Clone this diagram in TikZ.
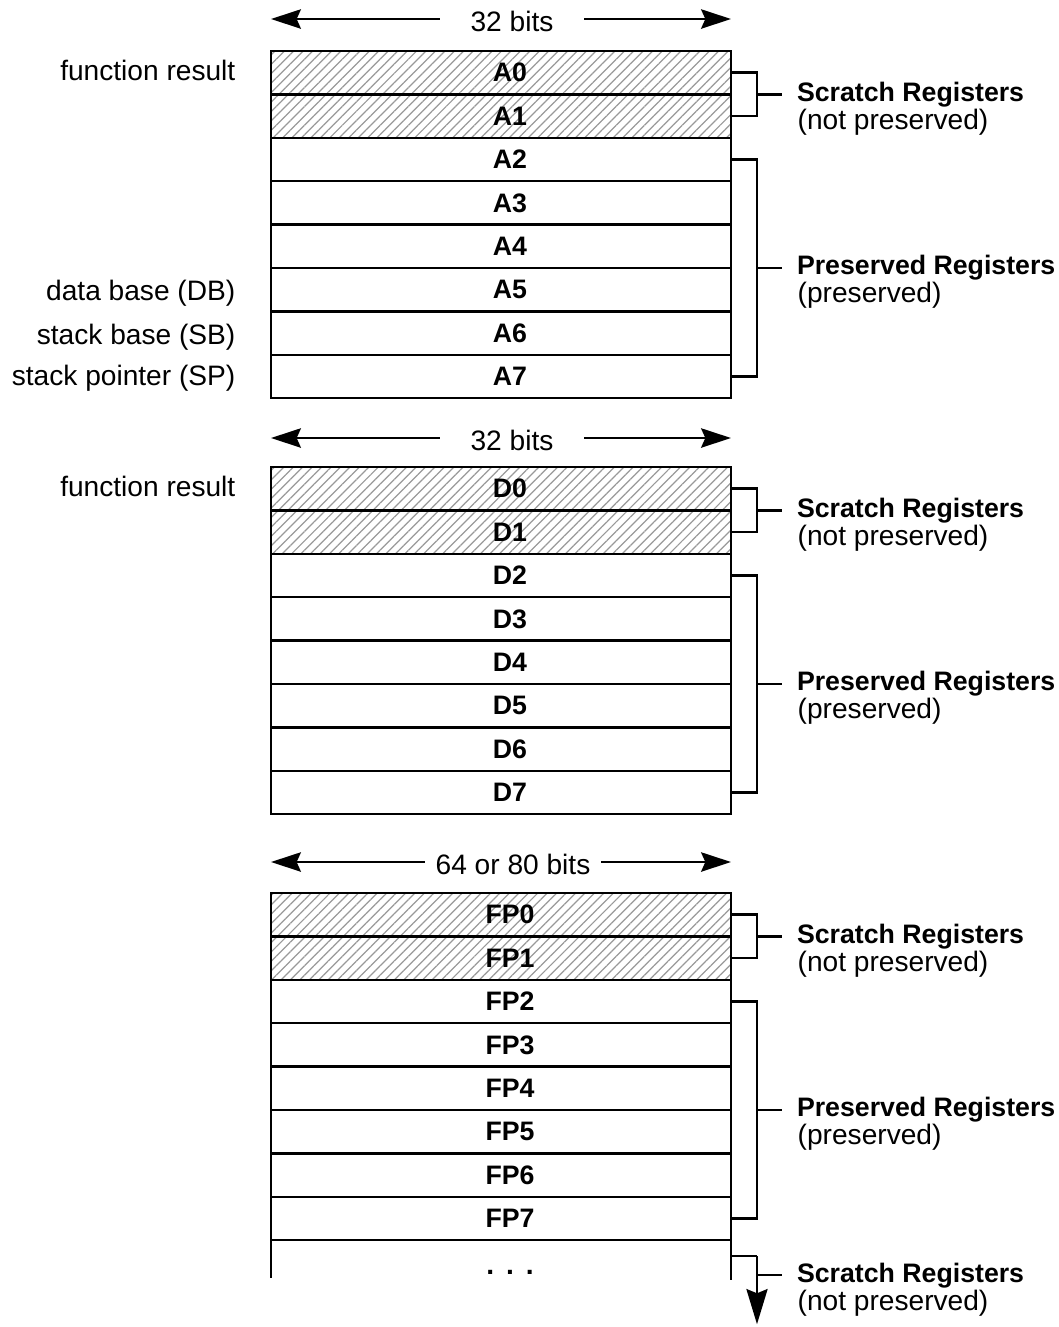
\documentclass[tikz,border=0pt]{standalone}
\usepackage{fontspec}
\setmainfont{Liberation Sans}
\usepackage{tikz}
\usetikzlibrary{calc,positioning,patterns.meta,arrows.meta}
\newcommand\lblfont{\fontsize{8}{8}\selectfont}
\newcommand\hdfont{\fontsize{7.6}{8}\selectfont\bfseries}
\tikzset{
    reg/.style={
        draw,
        line width=0.7pt,
        minimum width=4.6cm,
        minimum height=0.434cm,
        inner sep=0pt,
        outer sep=0pt,
        font=\hdfont,
        execute at begin node={\hspace*{0.18cm}}
    },
    % scratch registers are hatched
    hatch/.style={
        pattern={Lines[angle=45,distance=1.9pt,line width=0.35pt]},
        pattern color=black!40
    },
    brk/.style={line width=0.7pt},
    widtharrow/.style={
        line width=0.7pt,
        -{Stealth[length=8.5pt, width=5.5pt, inset=1.2pt]}
    },
    lbl/.style={font=\lblfont, inner sep=0pt},
    head/.style={font=\hdfont, inner ysep=0pt, inner xsep=0.15cm, outer sep=0pt},
    note/.style={font=\lblfont, inner sep=0pt, anchor=base west}
}

\begin{document}
\begin{tikzpicture}
    \useasboundingbox (0,0) rectangle (10.58,-13.27);

    % address registers
    \node[lbl, inner xsep=0.3cm] (wa) at (5.12,-0.21) {32 bits};
    \coordinate (wal) at (2.71,-0.19);
    \coordinate (war) at (7.31,-0.19);
    \draw[widtharrow] (wa.west |- wal) -- (wal);
    \draw[widtharrow] (wa.east |- war) -- (war);

    \node[reg,hatch] (a0) at (5.01,-0.727) {A0};
    \node[reg,hatch,below=0pt of a0] (a1) {A1};
    \node[reg,below=0pt of a1] (a2) {A2};
    \node[reg,below=0pt of a2] (a3) {A3};
    \node[reg,below=0pt of a3] (a4) {A4};
    \node[reg,below=0pt of a4] (a5) {A5};
    \node[reg,below=0pt of a5] (a6) {A6};
    \node[reg,below=0pt of a6] (a7) {A7};

    \node[lbl, anchor=east, left=0.35cm of a0.west, yshift=0.02cm] (resa) {function result};
    \node[lbl, anchor=east, left=0.35cm of a5.west, yshift=-0.04cm] (db) {data base (DB)};
    \node[lbl, anchor=east, left=0.35cm of a6.west, yshift=-0.04cm] (sb) {stack base (SB)};
    \node[lbl, anchor=east, left=0.35cm of a7.west, yshift=-0.02cm] (sp) {stack pointer (SP)};

    \draw[brk] (a0.east) -- ++(0.26,0) |- (a1.east);
    \coordinate (ta1) at ($(a0.east)!0.5!(a1.east)+(0.26,0)$);
    \node[head, right=0.25cm of ta1] (sa1) {Scratch Registers};
    \node[note] (sa1n) at ($(sa1.base west)+(0.15,-0.28)$) {(not preserved)};
    \draw[brk] (ta1) -- (sa1.west);

    \draw[brk] (a2.east) -- ++(0.26,0) |- (a7.east);
    \coordinate (ta2) at ($(a2.east)!0.5!(a7.east)+(0.26,0)$);
    \node[head, right=0.25cm of ta2] (sa2) {Preserved Registers};
    \node[note] (sa2n) at ($(sa2.base west)+(0.15,-0.28)$) {(preserved)};
    \draw[brk] (ta2) -- (sa2.west);

    % data registers
    \node[lbl, inner xsep=0.3cm] (wd) at (5.12,-4.40) {32 bits};
    \coordinate (wdl) at (2.71,-4.38);
    \coordinate (wdr) at (7.31,-4.38);
    \draw[widtharrow] (wd.west |- wdl) -- (wdl);
    \draw[widtharrow] (wd.east |- wdr) -- (wdr);

    \node[reg,hatch] (d0) at (5.01,-4.887) {D0};
    \node[reg,hatch,below=0pt of d0] (d1) {D1};
    \node[reg,below=0pt of d1] (d2) {D2};
    \node[reg,below=0pt of d2] (d3) {D3};
    \node[reg,below=0pt of d3] (d4) {D4};
    \node[reg,below=0pt of d4] (d5) {D5};
    \node[reg,below=0pt of d5] (d6) {D6};
    \node[reg,below=0pt of d6] (d7) {D7};

    \node[lbl, anchor=east, left=0.35cm of d0.west, yshift=0.02cm] (resd) {function result};

    \draw[brk] (d0.east) -- ++(0.26,0) |- (d1.east);
    \coordinate (td1) at ($(d0.east)!0.5!(d1.east)+(0.26,0)$);
    \node[head, right=0.25cm of td1] (sd1) {Scratch Registers};
    \node[note] (sd1n) at ($(sd1.base west)+(0.15,-0.28)$) {(not preserved)};
    \draw[brk] (td1) -- (sd1.west);

    \draw[brk] (d2.east) -- ++(0.26,0) |- (d7.east);
    \coordinate (td2) at ($(d2.east)!0.5!(d7.east)+(0.26,0)$);
    \node[head, right=0.25cm of td2] (sd2) {Preserved Registers};
    \node[note] (sd2n) at ($(sd2.base west)+(0.15,-0.28)$) {(preserved)};
    \draw[brk] (td2) -- (sd2.west);

    % floating point registers
    \node[lbl, inner xsep=0.1cm] (wf) at (5.13,-8.64) {64 or 80 bits};
    \coordinate (wfl) at (2.71,-8.62);
    \coordinate (wfr) at (7.31,-8.62);
    \draw[widtharrow] (wf.west |- wfl) -- (wfl);
    \draw[widtharrow] (wf.east |- wfr) -- (wfr);

    \node[reg,hatch] (fp0) at (5.01,-9.147) {FP0};
    \node[reg,hatch,below=0pt of fp0] (fp1) {FP1};
    \node[reg,below=0pt of fp1] (fp2) {FP2};
    \node[reg,below=0pt of fp2] (fp3) {FP3};
    \node[reg,below=0pt of fp3] (fp4) {FP4};
    \node[reg,below=0pt of fp4] (fp5) {FP5};
    \node[reg,below=0pt of fp5] (fp6) {FP6};
    \node[reg,below=0pt of fp6] (fp7) {FP7};

    \draw[brk] (fp0.east) -- ++(0.26,0) |- (fp1.east);
    \coordinate (tf1) at ($(fp0.east)!0.5!(fp1.east)+(0.26,0)$);
    \node[head, right=0.25cm of tf1] (sf1) {Scratch Registers};
    \node[note] (sf1n) at ($(sf1.base west)+(0.15,-0.28)$) {(not preserved)};
    \draw[brk] (tf1) -- (sf1.west);

    \draw[brk] (fp2.east) -- ++(0.26,0) |- (fp7.east);
    \coordinate (tf2) at ($(fp2.east)!0.5!(fp7.east)+(0.26,0)$);
    \node[head, right=0.25cm of tf2] (sf2) {Preserved Registers};
    \node[note] (sf2n) at ($(sf2.base west)+(0.15,-0.28)$) {(preserved)};
    \draw[brk] (tf2) -- (sf2.west);

    % open end below FP7
    \coordinate (fpl) at ($(fp7.south west)+(0,-0.38)$);
    \coordinate (fpr) at ($(fp7.south east)+(0,-0.40)$);
    \draw[brk] (fp7.south west) -- (fpl);
    \draw[brk] (fp7.south east) -- (fpr);
    \node[lbl, font=\lblfont\bfseries] (dots) at (5.10,-12.72) {.\hspace{0.12cm}.\hspace{0.12cm}.};

    \coordinate (fpx) at ($(fp7.south east)+(0,-0.16)$);
    \coordinate (fpxd) at ($(fpx)+(0.26,0)$);
    \coordinate (fpxtip) at ($(fpxd)+(0,-0.68)$);
    \draw[brk] (fpx) -- (fpxd);
    \draw[brk, -{Stealth[length=10pt, width=6pt, inset=1.2pt]}] (fpxd) -- (fpxtip);
    \coordinate (tf3) at ($(fpxd)+(0,-0.19)$);
    \node[head, right=0.25cm of tf3] (sf3) {Scratch Registers};
    \node[note] (sf3n) at ($(sf3.base west)+(0.15,-0.28)$) {(not preserved)};
    \draw[brk] (tf3) -- (sf3.west);
\end{tikzpicture}
\end{document}
